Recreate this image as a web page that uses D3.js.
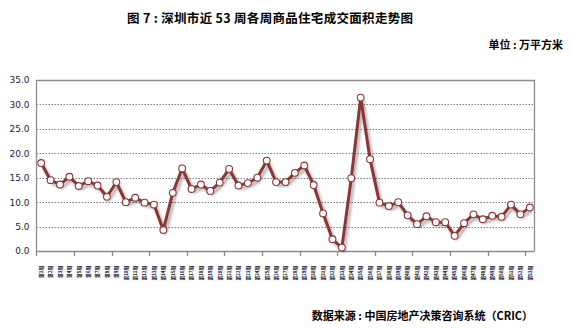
<!DOCTYPE html>
<html>
<head>
<meta charset="utf-8">
<script src="https://cdn.jsdelivr.net/npm/d3@7"></script>
<style>
  html, body { margin: 0; padding: 0; background: #fff; }
  svg { display: block; }
</style>
</head>
<body>
<svg id="chart" width="571" height="330"></svg>
<script>
// Weekly transacted floor area of commodity housing, Shenzhen (10k m²)
const weeks = d3.range(1, 54).map(i => "第" + i + "周");
const areaValues = [
  18.0, 14.5, 13.6, 15.2, 13.3, 14.3, 13.4, 11.1, 14.1, 10.0,
  10.9, 9.9, 9.5, 4.3, 11.9, 16.9, 12.7, 13.6, 12.3, 14.0,
  16.8, 13.4, 13.9, 15.0, 18.5, 14.1, 14.1, 16.0, 17.5, 13.5,
  7.7, 2.4, 0.7, 14.9, 31.4, 18.8, 9.9, 9.2, 10.0, 7.3,
  5.5, 7.1, 5.9, 5.9, 3.1, 5.7, 7.5, 6.5, 7.2, 7.0,
  9.5, 7.5, 8.9
];
const yTicks = [0, 5, 10, 15, 20, 25, 30, 35];

const titleText = "图 7 : 深圳市近 53 周各周商品住宅成交面积走势图";
const unitText = "单位 : 万平方米";
const sourceText = "数据来源 : 中国房地产决策咨询系统（CRIC）";

const svg = d3.select("#chart");
const plot = { left: 36.5, right: 534.5, top: 80, bottom: 251 };
const cjk = "'Noto Sans CJK SC', 'Noto Sans', sans-serif";

const x = d3.scaleBand().domain(weeks).range([plot.left, plot.right]).padding(0);
const y = d3.scaleLinear().domain([0, 35]).range([plot.bottom, plot.top]);

// shadow under the series line
const defs = svg.append("defs");
const f = defs.append("filter").attr("id", "shadow")
  .attr("x", "-5%").attr("y", "-10%").attr("width", "110%").attr("height", "130%");
f.append("feGaussianBlur").attr("in", "SourceAlpha").attr("stdDeviation", 1.6).attr("result", "b");
f.append("feOffset").attr("in", "b").attr("dx", 1.5).attr("dy", 2.5).attr("result", "o");
f.append("feComponentTransfer").attr("in", "o").attr("result", "s")
  .append("feFuncA").attr("type", "linear").attr("slope", 0.35);
const m = f.append("feMerge");
m.append("feMergeNode").attr("in", "s");
m.append("feMergeNode").attr("in", "SourceGraphic");

// titles
svg.append("text").attr("x", 127).attr("y", 23)
  .attr("font-family", cjk).attr("font-weight", "bold").attr("font-size", 12.5)
  .attr("fill", "#000")
  .attr("textLength", 286).attr("lengthAdjust", "spacing")
  .text(titleText);

svg.append("text").attr("x", 563).attr("y", 49).attr("text-anchor", "end")
  .attr("font-family", cjk).attr("font-weight", "bold").attr("font-size", 11)
  .attr("fill", "#000").text(unitText);

svg.append("text").attr("x", 533).attr("y", 320).attr("text-anchor", "end")
  .attr("font-family", cjk).attr("font-weight", "bold").attr("font-size", 11)
  .attr("fill", "#000").text(sourceText);

// dotted gridlines
svg.append("g").selectAll("line").data(yTicks.filter(t => t > 0 && t < 35)).join("line")
  .attr("x1", plot.left).attr("x2", plot.right)
  .attr("y1", d => Math.round(y(d)) + 0.5).attr("y2", d => Math.round(y(d)) + 0.5)
  .attr("stroke", "#7f7f7f").attr("stroke-width", 1).attr("stroke-dasharray", "1.5,1.5");

// plot frame (top and right)
svg.append("path")
  .attr("d", `M${plot.left},${plot.top + 0.5}H${plot.right}V${plot.bottom}`)
  .attr("fill", "none").attr("stroke", "#8c8c8c").attr("stroke-width", 1.3);

// y axis
const yAxis = d3.axisLeft(y).tickValues(yTicks).tickFormat(d3.format(".1f")).tickSize(0).tickPadding(7);
const gy = svg.append("g").attr("transform", `translate(${plot.left},0)`).call(yAxis);
gy.select(".domain").attr("stroke", "#8c8c8c").attr("stroke-width", 1.3)
  .attr("d", `M0,${plot.top}V${plot.bottom + 5}`);
gy.selectAll("text").attr("font-family", "'DejaVu Sans', sans-serif").attr("font-size", 9)
  .attr("fill", "#1b2140");

// x axis: ticks every four weeks, tiny vertical week labels
const gx = svg.append("g").attr("transform", `translate(0,${plot.bottom})`);
gx.append("line").attr("x1", plot.left).attr("x2", plot.right).attr("y1", 0.5).attr("y2", 0.5)
  .attr("stroke", "#8c8c8c").attr("stroke-width", 1.3);
const tickWeeks = weeks.filter((d, i) => i > 0 && i % 4 === 0);
gx.selectAll("line.tick").data(tickWeeks).join("line").attr("class", "tick")
  .attr("x1", d => Math.round(x(d)) + 0.5).attr("x2", d => Math.round(x(d)) + 0.5)
  .attr("y1", 0).attr("y2", 5)
  .attr("stroke", "#8c8c8c").attr("stroke-width", 1.3);
gx.selectAll("text").data(weeks).join("text")
  .attr("transform", d => `translate(${x(d) + x.bandwidth() / 2 + 1.8},${15}) rotate(-90)`)
  .attr("text-anchor", "end")
  .attr("font-family", cjk).attr("font-weight", "bold").attr("font-size", 4.6).attr("fill", "#0d0d2a")
  .text(d => d);

// series line and markers
const line = d3.line()
  .x((d, i) => x(weeks[i]) + x.bandwidth() / 2)
  .y(d => y(d));

svg.append("path").datum(areaValues)
  .attr("d", line)
  .attr("fill", "none").attr("stroke", "#8b3434").attr("stroke-width", 3)
  .attr("stroke-linejoin", "round")
  .attr("filter", "url(#shadow)");

svg.append("g").selectAll("circle").data(areaValues).join("circle")
  .attr("cx", (d, i) => x(weeks[i]) + x.bandwidth() / 2)
  .attr("cy", d => y(d))
  .attr("r", 3.4)
  .attr("fill", "#fff").attr("stroke", "#8b3434").attr("stroke-width", 1.1);
</script>
</body>
</html>
